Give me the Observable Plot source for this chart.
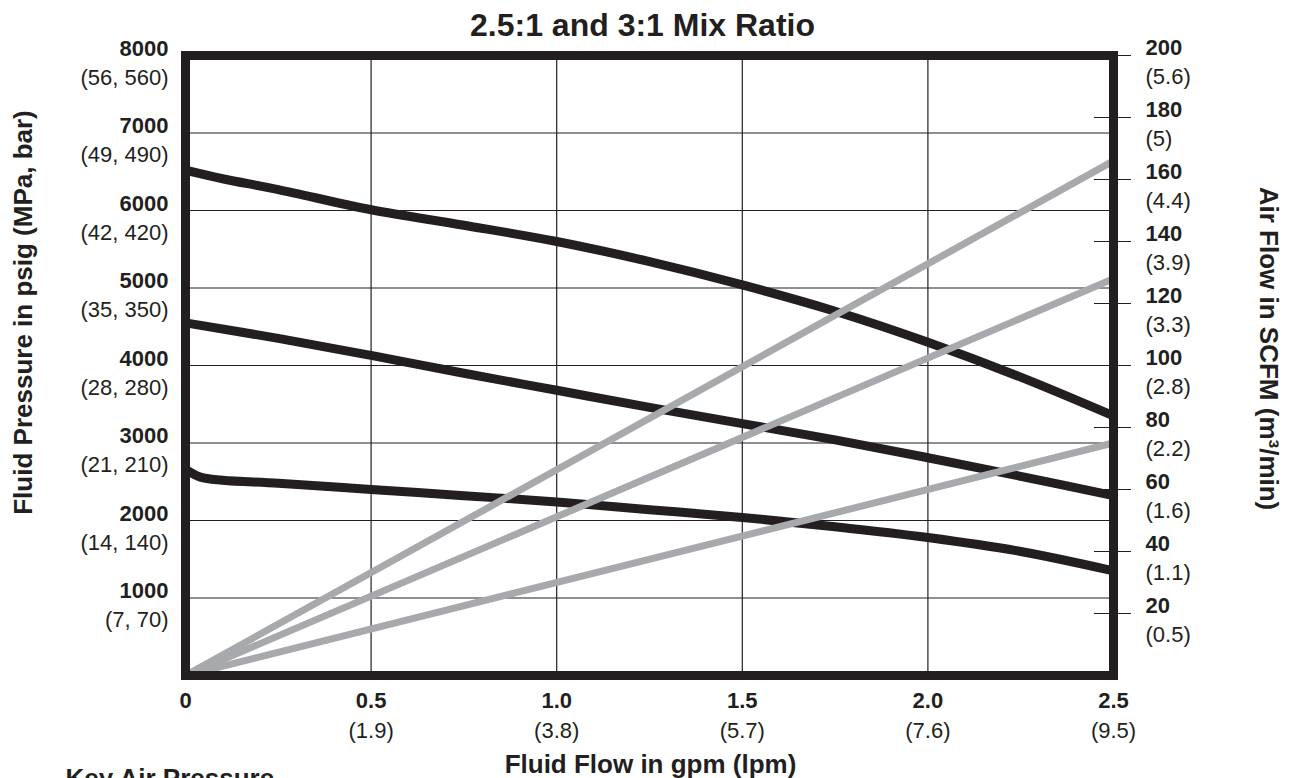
<!DOCTYPE html>
<html>
<head>
<meta charset="utf-8">
<script src="https://cdn.jsdelivr.net/npm/d3@7"></script>
<script src="https://cdn.jsdelivr.net/npm/@observablehq/plot@0.6"></script>
<style>
  html, body { margin: 0; padding: 0; background: #fff; }
  #chart { width: 1296px; height: 778px; overflow: hidden; }
</style>
</head>
<body>
<div id="chart"></div>
<script>
// ---- Text ----
const chartTitle = "2.5:1 and 3:1 Mix Ratio";
const xTitle = "Fluid Flow in gpm (lpm)";
const yTitle = "Fluid Pressure in psig (MPa, bar)";
const y2Title = "Air Flow in SCFM (m³/min)";
const keyTitle = "Key Air Pressure";

// ---- Axis ticks ----
const xTickVals = [0, 0.5, 1.0, 1.5, 2.0, 2.5];
const xTickBold = ["0", "0.5", "1.0", "1.5", "2.0", "2.5"];
const xTickParen = ["", "(1.9)", "(3.8)", "(5.7)", "(7.6)", "(9.5)"];
const xGridVals = [0.5, 1.0, 1.5, 2.0];

const yTickVals = [1000, 2000, 3000, 4000, 5000, 6000, 7000, 8000];
const yTickBold = ["1000", "2000", "3000", "4000", "5000", "6000", "7000", "8000"];
const yTickParen = ["(7, 70)", "(14, 140)", "(21, 210)", "(28, 280)", "(35, 350)", "(42, 420)", "(49, 490)", "(56, 560)"];
const yGridVals = [1000, 2000, 3000, 4000, 5000, 6000, 7000];

const airTickVals = [20, 40, 60, 80, 100, 120, 140, 160, 180, 200];
const airTickBold = ["20", "40", "60", "80", "100", "120", "140", "160", "180", "200"];
const airTickParen = ["(0.5)", "(1.1)", "(1.6)", "(2.2)", "(2.8)", "(3.3)", "(3.9)", "(4.4)", "(5)", "(5.6)"];
const airMax = 200, psigMax = 8000; // right axis spans 0–200 SCFM over 0–8000 psig

// ---- Fluid pressure curves (gpm, psig) ----
const curveHighX = [0, 0.1, 0.25, 0.5, 0.75, 1.0, 1.25, 1.5, 1.75, 2.0, 2.25, 2.5];
const curveHighY = [6520, 6410, 6270, 6010, 5810, 5600, 5340, 5040, 4700, 4300, 3850, 3350];
const curveMidX = [0, 0.25, 0.5, 0.75, 1.0, 1.25, 1.5, 1.75, 2.0, 2.25, 2.5];
const curveMidY = [4550, 4350, 4130, 3900, 3680, 3460, 3250, 3040, 2810, 2570, 2320];
const curveLowX = [0, 0.04, 0.1, 0.25, 0.5, 0.75, 1.0, 1.25, 1.5, 1.75, 2.0, 2.25, 2.5];
const curveLowY = [2660, 2560, 2520, 2480, 2400, 2320, 2240, 2140, 2040, 1920, 1780, 1600, 1350];

// ---- Air flow lines (gpm, SCFM) ----
const airHighX = [0, 2.5];
const airHighY = [0, 166];
const airMidX = [0, 2.5];
const airMidY = [0, 128];
const airLowX = [0, 2.5];
const airLowY = [0, 75];

const toRows = (name, xs, ys) => xs.map((x, i) => ({name, x, y: ys[i]}));
const fluidRows = [
  ...toRows("high", curveHighX, curveHighY),
  ...toRows("mid", curveMidX, curveMidY),
  ...toRows("low", curveLowX, curveLowY)
];
const airRows = [
  ...toRows("high", airHighX, airHighY),
  ...toRows("mid", airMidX, airMidY),
  ...toRows("low", airLowX, airLowY)
];
const airToPsig = a => a * psigMax / airMax;

const INK = "#231f20";
const GRAY = "#a7a9ac";
const FONT = "'Liberation Sans', Arial, Helvetica, sans-serif";
const T = {fill: INK, lineAnchor: "middle"};

const chart = Plot.plot({
  width: 1296,
  height: 778,
  marginLeft: 185,
  marginRight: 183,
  marginTop: 55,
  marginBottom: 103,
  style: {fontFamily: FONT, background: "#fff", color: INK},
  x: {domain: [0, 2.5], axis: null},
  y: {domain: [0, psigMax], axis: null},
  marks: [
    Plot.gridX(xGridVals, {stroke: INK, strokeOpacity: 1, strokeWidth: 1.2}),
    Plot.gridY(yGridVals, {stroke: INK, strokeOpacity: 1, strokeWidth: 1.2}),
    Plot.line(fluidRows, {x: "x", y: "y", z: "name", stroke: INK, strokeWidth: 9, curve: "catmull-rom", clip: true}),
    Plot.line(airRows, {x: "x", y: d => airToPsig(d.y), z: "name", stroke: GRAY, strokeWidth: 7, clip: true}),
    Plot.frame({stroke: INK, strokeWidth: 9}),
    // right axis tick marks straddling the frame edge
    Plot.axisY(airTickVals.map(airToPsig), {anchor: "right", tickSize: 37, dx: -20, tickFormat: () => "", label: null, stroke: INK, strokeWidth: 1}),
    // left axis labels
    Plot.text(yTickBold, {...T, y: yTickVals, text: d => d, frameAnchor: "left", textAnchor: "end", dx: -17, dy: -7, fontSize: 22, fontWeight: "bold"}),
    Plot.text(yTickParen, {...T, y: yTickVals, text: d => d, frameAnchor: "left", textAnchor: "end", dx: -17, dy: 22, fontSize: 22}),
    // right axis labels
    Plot.text(airTickBold, {...T, y: airTickVals.map(airToPsig), text: d => d, frameAnchor: "right", textAnchor: "start", dx: 32, dy: -8, fontSize: 22, fontWeight: "bold"}),
    Plot.text(airTickParen, {...T, y: airTickVals.map(airToPsig), text: d => d, frameAnchor: "right", textAnchor: "start", dx: 32, dy: 21, fontSize: 22}),
    // bottom axis labels
    Plot.text(xTickBold, {...T, x: xTickVals, text: d => d, frameAnchor: "bottom", textAnchor: "middle", dy: 25, fontSize: 22, fontWeight: "bold"}),
    Plot.text(xTickParen, {...T, x: xTickVals, text: d => d, frameAnchor: "bottom", textAnchor: "middle", dy: 55, fontSize: 22}),
    // titles
    Plot.text([chartTitle], {...T, text: d => d, frameAnchor: "top", textAnchor: "middle", dx: -7, dy: -30, fontSize: 32, fontWeight: "bold"}),
    Plot.text([xTitle], {...T, text: d => d, frameAnchor: "bottom", textAnchor: "middle", dx: 1, dy: 89, fontSize: 26, fontWeight: "bold"}),
    Plot.text([yTitle], {...T, text: d => d, frameAnchor: "left", textAnchor: "middle", rotate: -90, dx: -162, dy: -53, fontSize: 26, fontWeight: "bold"}),
    Plot.text([y2Title], {...T, text: d => d, frameAnchor: "right", textAnchor: "middle", rotate: 90, dx: 155, dy: -17, fontSize: 26, fontWeight: "bold"}),
    Plot.text([keyTitle], {...T, text: d => d, frameAnchor: "bottom-left", textAnchor: "start", dx: -120, dy: 103, fontSize: 26, fontWeight: "bold"})
  ]
});
document.getElementById("chart").appendChild(chart);
</script>
</body>
</html>
